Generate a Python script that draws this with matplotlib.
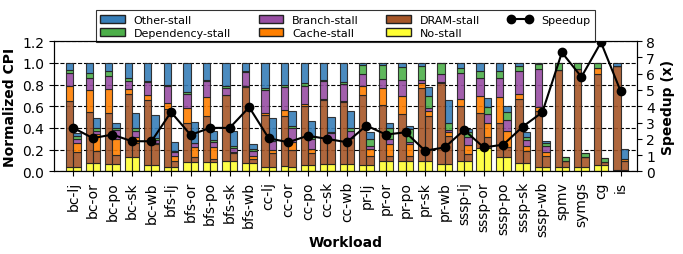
import matplotlib
matplotlib.use("Agg")
import matplotlib.pyplot as plt
import numpy as np
from matplotlib.patches import Patch
from matplotlib.lines import Line2D

workloads = [
    "bc-lj", "bc-or", "bc-po", "bc-sk", "bc-wb",
    "bfs-lj", "bfs-or", "bfs-po", "bfs-sk", "bfs-wb",
    "cc-lj", "cc-or", "cc-po", "cc-sk", "cc-wb",
    "pr-lj", "pr-or", "pr-po", "pr-sk", "pr-wb",
    "sssp-lj", "sssp-or", "sssp-po", "sssp-sk", "sssp-wb",
    "spmv", "symgs", "cg", "is",
]

# baseline bars (normalized to 1.0), stack order bottom -> top
base_no = [.04, .074, .068, .136, .059, .043, .09, .083, .10, .074, .043, .05, .062, .068, .068,
           .062, .093, .093, .092, .068, .092, .215, .135, .074, .037, .04, .04, .059, .01]
base_dram = [.605, .472, .472, .58, .595, .534, .36, .431, .60, .701, .477, .46, .544, .592, .569,
             .638, .521, .437, .674, .742, .514, .32, .308, .594, .523, .895, .90, .841, .965]
base_cache = [.14, .207, .216, .046, .046, .056, .136, .169, .005, .01, .015, .055, .014, .005, .008,
              .087, .154, .168, .044, .01, .062, .155, .24, .046, .03, 0, 0, .05, 0]
base_branch = [.125, .107, .124, .068, .12, .154, .127, .145, .065, .129, .215, .215, .165, .165, .161,
               .113, .081, .139, .027, .08, .237, .17, .177, .209, .355, 0, 0, 0, 0]
base_dep = [.025, .05, .04, .03, .01, .008, .017, .018, .015, .006, .016, .02, .025, .01, .014,
            .08, .131, .123, .133, .095, .049, .063, .063, .047, .04, .065, .06, .05, 0]
base_other = [.065, .09, .08, .14, .17, .205, .27, .154, .215, .08, .234, .20, .19, .16, .18,
              .02, .02, .04, .03, .005, .046, .077, .077, .03, .015, 0, 0, 0, .025]

# optimized bars
opt_no = [.043, .074, .068, .136, .059, .043, .09, .083, .10, .074, .043, .043, .062, .068, .068,
          .062, .093, .093, .092, .068, .092, .215, .135, .074, .037, .04, .037, .059, .01]
opt_dram = [.133, .111, .087, .124, .191, .057, .04, .031, .065, .04, .123, .154, .104, .222, .237,
            .083, .052, .052, .422, .262, .068, .099, .087, .111, .101, .06, .093, .031, .09]
opt_cache = [.084, .155, .145, .055, .015, .045, .09, .106, .01, .031, .031, .073, .04, .005, .005,
             .062, .108, .11, .046, .03, .086, .129, .153, .045, .037, 0, 0, 0, .01]
opt_branch = [.04, .03, .08, .061, .025, .035, .042, .048, .04, .045, .08, .13, .094, .055, .06,
              .023, .047, .015, .02, .02, .068, .087, .099, .062, .062, 0, 0, 0, 0]
opt_dep = [.03, .03, .02, .024, .02, .005, .003, .022, .02, .016, .003, .02, .014, .015, .03,
           .07, .10, .12, .11, .063, .046, .06, .071, .028, .021, .03, .035, .033, 0]
opt_other = [.025, .09, .044, .137, .21, .083, .189, .085, .14, .046, .21, .134, .146, .135, .154,
             .06, .047, .027, .085, .217, .03, .087, .061, .04, .019, .005, .005, 0, .095]

speedup = [2.67, 2.04, 2.26, 1.85, 1.85, 3.64, 2.24, 2.67, 2.67, 3.94, 2.03, 1.79, 2.19, 1.99, 1.79,
           2.81, 2.26, 2.4, 1.27, 1.47, 2.54, 1.47, 1.64, 2.75, 3.63, 7.3, 5.8, 7.92, 4.94]

stall_names = ["No-stall", "DRAM-stall", "Cache-stall", "Branch-stall", "Dependency-stall", "Other-stall"]
stall_colors = ["#ffff33", "#a65628", "#ff7f00", "#984ea3", "#4daf4a", "#377eb8"]

fig = plt.figure(figsize=(6.83, 2.55), dpi=100)
ax = fig.add_axes([0.079, 0.324, 0.853, 0.511])

x = np.arange(len(workloads))
w = 0.375
base = [base_no, base_dram, base_cache, base_branch, base_dep, base_other]
opt = [opt_no, opt_dram, opt_cache, opt_branch, opt_dep, opt_other]

for series, offs in [(base, -w / 2), (opt, w / 2)]:
    bottom = np.zeros(len(workloads))
    for vals, col in zip(series, stall_colors):
        vals = np.array(vals)
        ax.bar(x + offs, vals, w, bottom=bottom, color=col, edgecolor="#222222",
               linewidth=0.8, alpha=0.9)
        bottom += vals

ax.set_xlim(-0.99, 28.82)
ax.set_ylim(0, 1.2)
ax.set_yticks(np.arange(0, 1.21, 0.2))
ax.set_yticklabels([f"{v:.1f}" for v in np.arange(0, 1.21, 0.2)], fontsize=10)
ax.set_xticks(x)
ax.set_xticklabels(workloads, rotation=90, fontsize=10)
ax.yaxis.grid(True, linestyle="--", color="black", linewidth=0.8)
ax.set_axisbelow(True)
ax.set_ylabel("Normalized CPI", fontsize=10, fontweight="bold")
ax.set_xlabel("Workload", fontsize=10, fontweight="bold", labelpad=-1)

ax2 = ax.twinx()
ax2.plot(x, speedup, color="black", marker="o", markersize=6, linewidth=1.5)
ax2.set_ylim(0, 8)
ax2.set_yticks(range(0, 9))
ax2.tick_params(labelsize=10)
ax2.set_ylabel("Speedup (x)", fontsize=10, fontweight="bold")

handles = [
    Patch(facecolor=stall_colors[5], edgecolor="#222222", label=stall_names[5]),
    Patch(facecolor=stall_colors[4], edgecolor="#222222", label=stall_names[4]),
    Patch(facecolor=stall_colors[3], edgecolor="#222222", label=stall_names[3]),
    Patch(facecolor=stall_colors[2], edgecolor="#222222", label=stall_names[2]),
    Patch(facecolor=stall_colors[1], edgecolor="#222222", label=stall_names[1]),
    Patch(facecolor=stall_colors[0], edgecolor="#222222", label=stall_names[0]),
    Line2D([0], [0], color="black", marker="o", markersize=6, linewidth=1.5, label="Speedup"),
]
leg = ax.legend(handles=handles, ncol=4, loc="lower center", bbox_to_anchor=(0.5, 0.99),
                fontsize=8, frameon=True, fancybox=False, numpoints=2,
                borderaxespad=0, handlelength=2.2, columnspacing=2.5, labelspacing=0.3)
leg.get_frame().set_edgecolor("black")
leg.get_frame().set_linewidth(0.8)

fig.savefig("out.png", dpi=100)
